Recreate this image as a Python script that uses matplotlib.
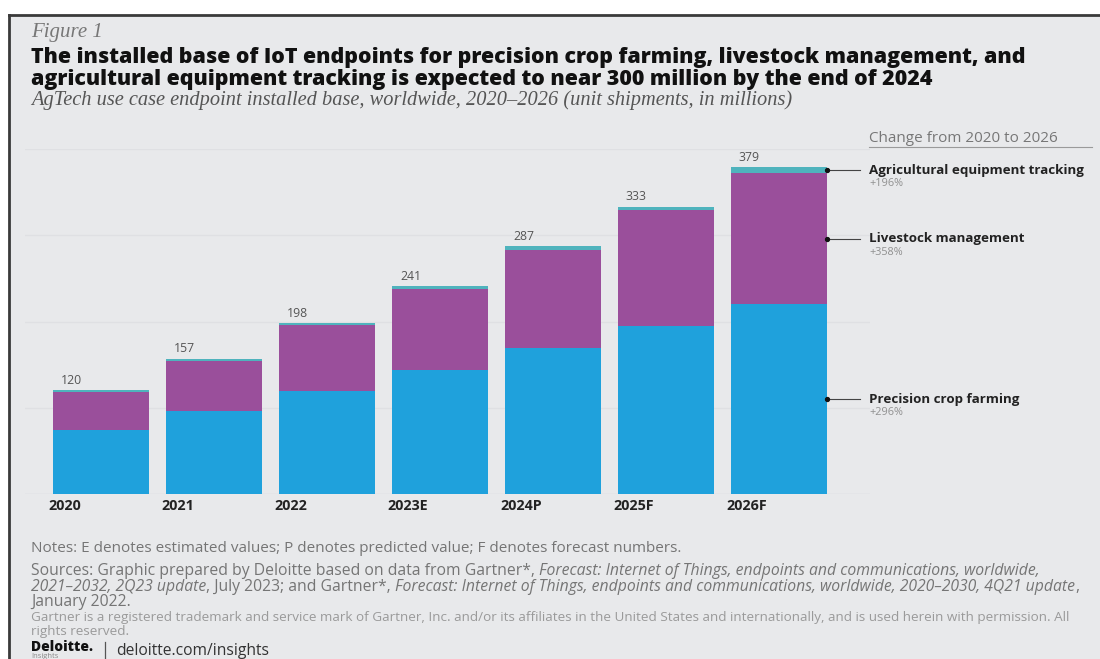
import matplotlib
matplotlib.use("Agg")
import matplotlib.pyplot as plt
from matplotlib.patches import Rectangle
from matplotlib.lines import Line2D

# ---------------- data ----------------
years = ["2020", "2021", "2022", "2023E", "2024P", "2025F", "2026F"]
crop_farming = [74, 96, 119, 144, 169, 195, 220]
livestock = [44, 58, 77, 94, 114, 134, 152]
equipment = [2, 3, 2, 3, 4, 4, 7]
totals = [120, 157, 198, 241, 287, 333, 379]
series_names = ["Precision crop farming", "Livestock management", "Agricultural equipment tracking"]
series_change = ["+296%", "+358%", "+196%"]

BLUE = "#1fa1dc"
PURPLE = "#9a4f9b"
TEAL = "#4fb3bd"
BG = "#e8e9eb"

W, H = 1100, 659
fig = plt.figure(figsize=(W / 100, H / 100), dpi=100)
fig.patch.set_facecolor("white")
r = fig.canvas.get_renderer()

def fx(x):
    return x / W

def fy(y):
    return 1 - y / H

# panel background + border
fig.patches.append(Rectangle((fx(9), 0), 1 - fx(9), fy(15), transform=fig.transFigure,
                             facecolor=BG, edgecolor="none", zorder=-5))
fig.lines.append(Line2D([fx(9), 1], [fy(15), fy(15)], transform=fig.transFigure, color="#3a3a3a", lw=2))
fig.lines.append(Line2D([fx(9), fx(9)], [fy(15), 0], transform=fig.transFigure, color="#3a3a3a", lw=2))

def fit(x, y, s, width, **kw):
    t = fig.text(fx(x), fy(y), s, va="center", ha="left", **kw)
    w = t.get_window_extent(r).width
    t.set_fontsize(t.get_fontsize() * width / w)
    return t

# header texts
fit(31, 32, "Figure 1", 72, family="Liberation Serif", style="italic", color="#777777", fontsize=10)
t1 = fit(31, 57, "The installed base of IoT endpoints for precision crop farming, livestock management, and",
         1000, family="Open Sans", weight="heavy", color="#111111", fontsize=14)
fig.text(fx(31), fy(79), "agricultural equipment tracking is expected to near 300 million by the end of 2024",
         va="center", ha="left", family="Open Sans", weight="heavy", color="#111111",
         fontsize=t1.get_fontsize())
fit(31, 100, "AgTech use case endpoint installed base, worldwide, 2020\u20132026 (unit shipments, in millions)",
    762, family="Liberation Serif", style="italic", color="#555555", fontsize=10)

# ---------------- chart ----------------
ax_l, ax_r, ax_t, ax_b = 25, 870, 149, 494
ax = fig.add_axes([fx(ax_l), fy(ax_b), (ax_r - ax_l) / W, (ax_b - ax_t) / H], zorder=2)
ax.patch.set_visible(False)
x0, step = 101, 113
ax.set_xlim((ax_l - x0) / step, (ax_r - x0) / step)
ax.set_ylim(0, 400)
for s in ax.spines.values():
    s.set_visible(False)
ax.set_xticks([])
ax.set_yticks([])
for g in [100, 200, 300, 400]:
    ax.axhline(g, color="#dfe0e3", lw=0.9, zorder=0)
ax.axhline(0, color="#d8d9dc", lw=1.0, zorder=0)

xs = list(range(len(years)))
bw = 0.85
bottom2 = [a + b for a, b in zip(crop_farming, livestock)]
ax.bar(xs, crop_farming, width=bw, color=BLUE, zorder=2)
ax.bar(xs, livestock, width=bw, bottom=crop_farming, color=PURPLE, zorder=2)
ax.bar(xs, equipment, width=bw, bottom=bottom2, color=TEAL, zorder=2)

for i, (yr, tot) in enumerate(zip(years, totals)):
    ax.text(i - bw / 2 + 0.07, tot + 4, str(tot), ha="left", va="bottom",
            fontsize=8.8, color="#555555", family="Open Sans")
    ax.text(i - bw / 2 - 0.04, -14, yr, ha="left", va="center", fontsize=10.3,
            weight="bold", color="#222222", family="Open Sans", clip_on=False)

# annotations for last bar
last = len(years) - 1
mids = [crop_farming[last] / 2,
        crop_farming[last] + livestock[last] / 2,
        bottom2[last] + equipment[last] / 2]
xr = last + bw / 2
xe = (860 - x0) / step
xt = (869 - x0) / step
for name, chg, m in zip(series_names, series_change, mids):
    ax.plot([xr, xe], [m, m], color="#444444", lw=0.8, clip_on=False, zorder=3)
    ax.plot([xr], [m], "o", ms=2.8, color="#111111", clip_on=False, zorder=4)
    ax.text(xt, m, name, ha="left", va="center", fontsize=9.6, weight="bold",
            color="#222222", family="Open Sans", clip_on=False)
    ax.text(xt, m - 16, chg, ha="left", va="center", fontsize=7.8,
            color="#909090", family="Open Sans", clip_on=False)

fit(869, 138, "Change from 2020 to 2026", 189, family="Open Sans", color="#777777", fontsize=8)
fig.lines.append(Line2D([fx(869), fx(1092)], [fy(147), fy(147)], transform=fig.transFigure,
                        color="#9a9a9a", lw=0.8))

# ---------------- footer ----------------
NOTE_FONT = "Open Sans"
fit(31, 549, "Notes: E denotes estimated values; P denotes predicted value; F denotes forecast numbers.",
    653, family=NOTE_FONT, color="#757575", fontsize=8)

src_lines = [
    [("Sources: Graphic prepared by Deloitte based on data from Gartner*, ", "normal"),
     ("Forecast: Internet of Things, endpoints and communications, worldwide,", "italic")],
    [("2021\u20132032, 2Q23 update", "italic"), (", July 2023; and Gartner*, ", "normal"),
     ("Forecast: Internet of Things, endpoints and communications, worldwide, 2020\u20132030, 4Q21 update", "italic"),
     (",", "normal")],
    [("January 2022.", "normal")],
]
src_y = [571, 587, 602]

def measure(pieces, size):
    tot = 0
    for s, st in pieces:
        t = fig.text(0, 0, s, family=NOTE_FONT, style=st, fontsize=size)
        tot += t.get_window_extent(r).width
        t.remove()
    return tot

ref = measure(src_lines[1], 8)
src_size = 8 * (1046 / ref)
for pieces, y in zip(src_lines, src_y):
    x = 31
    for s, st in pieces:
        t = fig.text(fx(x), fy(y), s, family=NOTE_FONT, style=st, fontsize=src_size,
                     color="#757575", va="center", ha="left")
        x += t.get_window_extent(r).width

g1 = fit(31, 618, "Gartner is a registered trademark and service mark of Gartner, Inc. and/or its affiliates in the "
         "United States and internationally, and is used herein with permission. All",
         1046, family=NOTE_FONT, color="#9a9a9a", fontsize=7)
fig.text(fx(31), fy(631), "rights reserved.", family=NOTE_FONT, color="#9a9a9a",
         fontsize=g1.get_fontsize(), va="center", ha="left")

fit(31, 647, "Deloitte.", 62, family="Open Sans", weight="heavy", color="#111111", fontsize=8)
fig.text(fx(31), fy(656), "Insights", family="Open Sans", color="#888888", fontsize=5.5,
         va="center", ha="left")
fig.lines.append(Line2D([fx(105), fx(105)], [fy(642), fy(659)], transform=fig.transFigure,
                        color="#555555", lw=0.9))
fit(116, 651, "deloitte.com/insights", 154, family="Open Sans", color="#333333", fontsize=8)

fig.savefig("out.png", dpi=100, facecolor=fig.get_facecolor())
